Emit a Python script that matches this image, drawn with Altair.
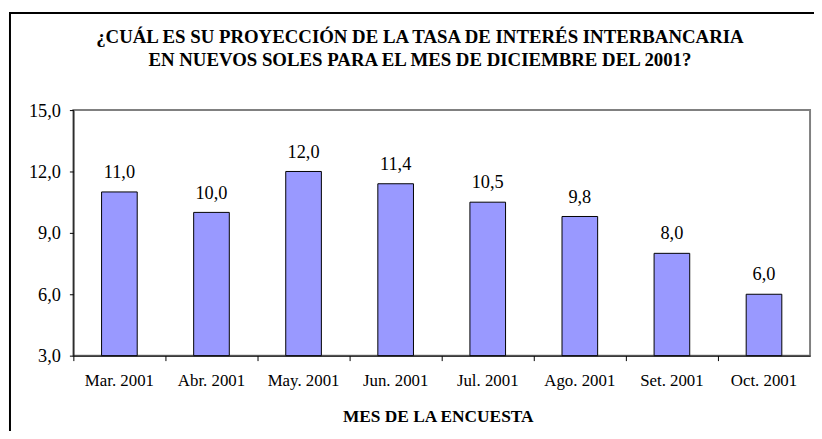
import altair as alt
import pandas as pd

months = ["Mar. 2001", "Abr. 2001", "May. 2001", "Jun. 2001",
          "Jul. 2001", "Ago. 2001", "Set. 2001", "Oct. 2001"]
values = [11.0, 10.0, 12.0, 11.4, 10.5, 9.8, 8.0, 6.0]
y_ticks = [3, 6, 9, 12, 15]

title_lines = ["¿CUÁL ES SU PROYECCIÓN DE LA TASA DE INTERÉS INTERBANCARIA",
               "EN NUEVOS SOLES PARA EL MES DE  DICIEMBRE DEL 2001?"]
x_title = "MES DE LA ENCUESTA"

FONT = "Liberation Serif"

df = pd.DataFrame({"mes": months, "valor": values})
df["etiqueta"] = [f"{v:.1f}".replace(".", ",") for v in values]

x_enc = alt.X("mes:N", sort=months,
              scale=alt.Scale(paddingInner=0, paddingOuter=0),
              axis=alt.Axis(title=x_title, bandPosition=0, labelAngle=0,
                            labelFont=FONT, labelFontSize=17, labelColor="black",
                            labelBaseline="alphabetic", labelPadding=25,
                            tickSize=5, tickColor="black", domainColor="black",
                            titleFont=FONT, titleFontSize=17.5, titleFontWeight="bold",
                            titleColor="black", titleBaseline="alphabetic",
                            titleY=67, titleX=368))
y_enc = alt.Y("valor:Q",
              scale=alt.Scale(domain=[3, 15], zero=False, nice=False),
              axis=alt.Axis(title=None, values=y_ticks, grid=False,
                            labelExpr="replace(format(datum.value, '.1f'), '.', ',')",
                            labelFont=FONT, labelFontSize=18.5, labelColor="black",
                            labelPadding=9, tickSize=4, tickColor="black",
                            domainColor="black"))

bars = alt.Chart(df).mark_bar(
    width=alt.RelativeBandSize(0.387), color="#9999FF",
    stroke="black", strokeWidth=1
).encode(x=x_enc, y=y_enc, y2=alt.datum(3))

labels = alt.Chart(df).mark_text(
    font=FONT, fontSize=18.5, color="black", baseline="alphabetic", dy=-14
).encode(x=alt.X("mes:N", sort=months), y=alt.Y("valor:Q"), text="etiqueta:N")

one = pd.DataFrame({"k": [0]})

frame = alt.Chart(one).mark_rect(
    fillOpacity=0, stroke="black", strokeWidth=2
).encode(x=alt.value(-64), x2=alt.value(760), y=alt.value(-98), y2=alt.value(340))

title = alt.Chart(one).mark_text(
    font=FONT, fontSize=19, fontWeight="bold", color="black",
    align="center", baseline="alphabetic", lineHeight=23
).encode(x=alt.value(350), y=alt.value(-68), text=alt.value(title_lines))

chart = alt.layer(bars, labels, frame, title).properties(
    width=744, height=248,
    autosize=alt.AutoSizeParams(type="none"),
    padding={"left": 66, "top": 101, "right": 4, "bottom": 74},
).configure(font=FONT).configure_view(stroke="#808080", strokeWidth=2)

chart.save("out.html", embed_options={"renderer": "svg", "actions": False})
